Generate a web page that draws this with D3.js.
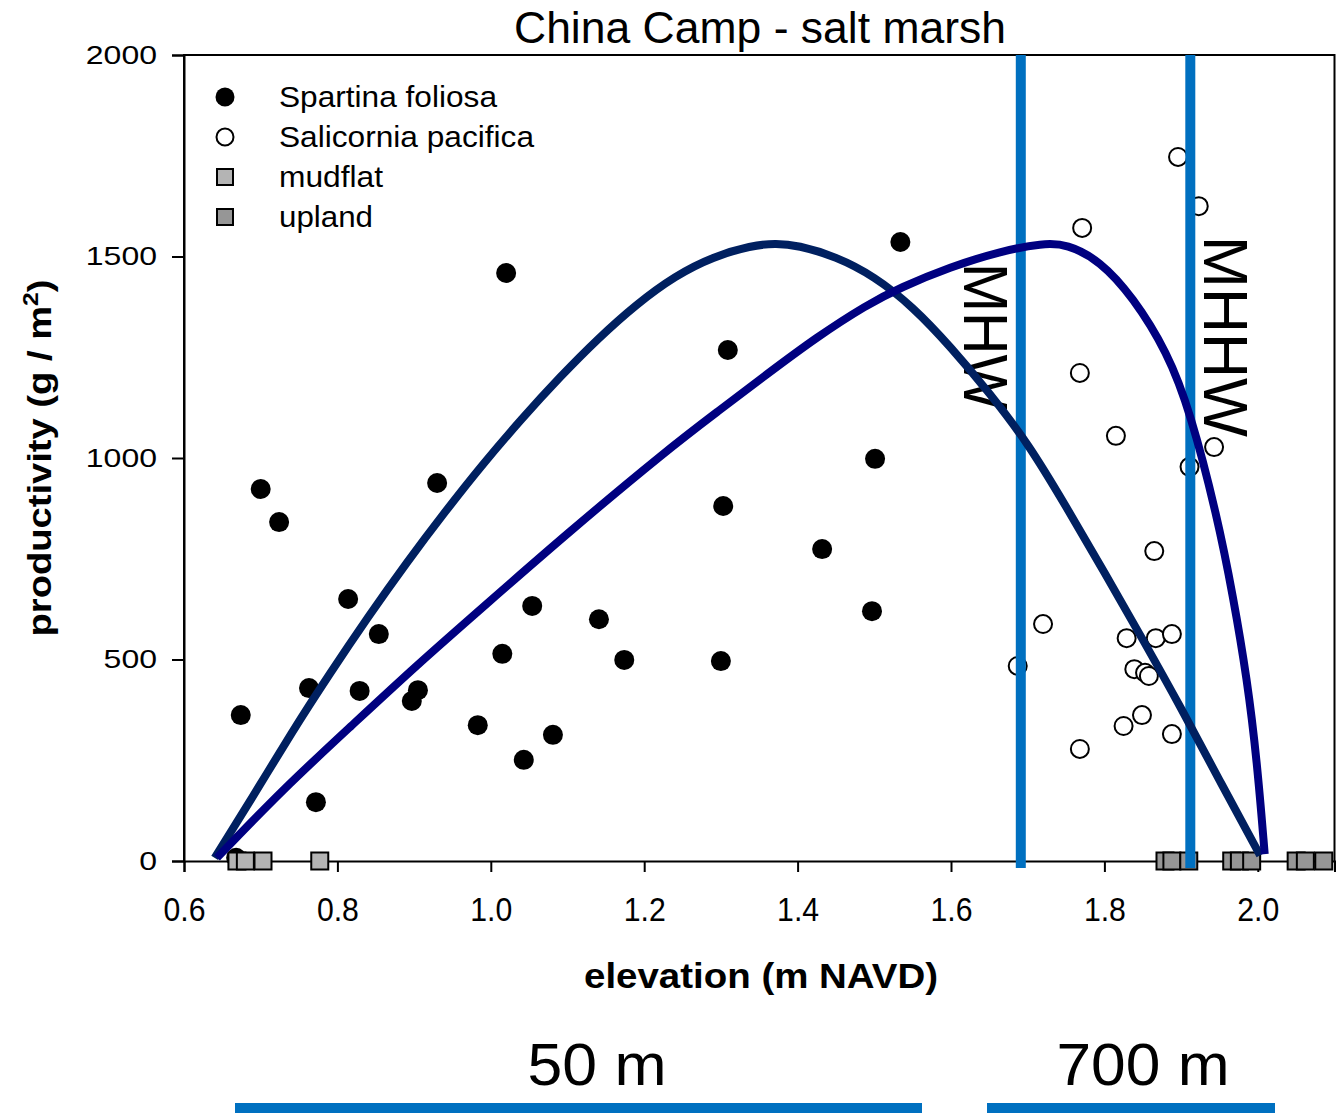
<!DOCTYPE html>
<html>
<head>
<meta charset="utf-8">
<script src="https://cdn.jsdelivr.net/npm/d3@7"></script>
<style>
  html, body { margin: 0; padding: 0; background: #fff; }
  svg { display: block; }
</style>
</head>
<body>
<svg id="chart" width="1336" height="1113"></svg>
<script>
// ---------------- data ----------------
const title = "China Camp - salt marsh";
const xTicks = [0.6, 0.8, 1.0, 1.2, 1.4, 1.6, 1.8, 2.0];
const yTicks = [0, 500, 1000, 1500, 2000];

// Spartina foliosa: [elevation, productivity]
const spartina = [
  [0.668, 8], [0.674, 362], [0.700, 923], [0.724, 841], [0.763, 429], [0.772, 146],
  [0.814, 650], [0.829, 422], [0.854, 563], [0.897, 397], [0.905, 424],
  [0.930, 938], [0.983, 337], [1.015, 514], [1.020, 1459], [1.043, 251],
  [1.054, 633], [1.081, 313], [1.141, 600], [1.174, 499], [1.300, 496],
  [1.303, 881], [1.309, 1268], [1.432, 774], [1.497, 620], [1.501, 998],
  [1.534, 1536]
];
// Salicornia pacifica
const salicornia = [
  [1.687, 484], [1.720, 588], [1.771, 1571], [1.768, 1211], [1.768, 278],
  [1.815, 1055], [1.829, 553], [1.825, 335], [1.839, 476], [1.849, 362],
  [1.853, 467], [1.858, 459], [1.865, 769], [1.867, 553], [1.888, 563],
  [1.888, 315], [1.896, 1747], [1.911, 978], [1.923, 1625], [1.943, 1027]
];
// mudflat / upland (productivity 0)
const mudflat = [0.669, 0.680, 0.703, 0.777];
const upland = [1.879, 1.888, 1.910, 1.966, 1.976, 1.992, 2.050, 2.062, 2.086];

// fitted curves
const curveSpartina = [
  [0.640, 8], [0.690, 160], [0.740, 318], [0.790, 465], [0.840, 606],
  [0.890, 740], [0.940, 866], [0.990, 986], [1.040, 1097], [1.090, 1201],
  [1.140, 1297], [1.190, 1382], [1.240, 1452], [1.290, 1500], [1.340, 1527],
  [1.371, 1533], [1.400, 1528], [1.450, 1500], [1.500, 1451], [1.550, 1376],
  [1.600, 1275], [1.650, 1162], [1.700, 1038], [1.750, 880], [1.800, 716],
  [1.850, 550], [1.900, 380], [1.950, 200], [2.003, 14]
];
const curveSalicornia = [
  [0.643, 8], [0.730, 180], [0.818, 335], [0.904, 487], [0.991, 632],
  [1.099, 812], [1.230, 1020], [1.295, 1114], [1.360, 1208], [1.425, 1300],
  [1.490, 1380], [1.534, 1423], [1.599, 1474], [1.664, 1513], [1.720, 1533],
  [1.751, 1531], [1.794, 1490], [1.837, 1400], [1.882, 1263], [1.912, 1114],
  [1.947, 856], [1.968, 655], [1.986, 452], [1.999, 248], [2.009, 17]
];
// tidal datums
const datums = [
  { name: "MHW", x: 1.691 },
  { name: "MHHW", x: 1.912 }
];
const legendItems = [
  { label: "Spartina foliosa", type: "filled" },
  { label: "Salicornia pacifica", type: "open" },
  { label: "mudflat", type: "mudflat" },
  { label: "upland", type: "upland" }
];
const distances = [
  { label: "50 m", from: 235, to: 922 },
  { label: "700 m", from: 987, to: 1275 }
];

// ---------------- drawing ----------------
(function () {
const svg = d3.select("#chart");
const mL = 184, mR = 1334.5, mT = 55, mB = 861;

const x = d3.scaleLinear().domain([0.6, 2.1]).range([mL, mR]);
const y = d3.scaleLinear().domain([0, 2000]).range([mB, mT]);

const SANS = "'Liberation Sans', Arial, sans-serif";
const NARROW = "'Liberation Sans Narrow', 'Arial Narrow', 'Liberation Sans', sans-serif";

const COL_BLUE = "#0070C0";
const COL_A = "#002060";
const COL_B = "#000080";
const COL_MUD = "#b4b4b4";
const COL_UP = "#969696";

// Title
svg.append("text")
  .attr("x", 760).attr("y", 43)
  .attr("text-anchor", "middle")
  .attr("font-family", SANS).attr("font-size", 44)
  .attr("textLength", 492).attr("lengthAdjust", "spacingAndGlyphs")
  .attr("fill", "#000")
  .text(title);

// Frame
svg.append("path")
  .attr("d", `M${mL},${mB}V${mT}H${mR}V${mB}`)
  .attr("fill", "none").attr("stroke", "#000").attr("stroke-width", 2);

// X axis
const xAxis = svg.append("g")
  .attr("transform", `translate(0,${mB})`)
  .call(d3.axisBottom(x).tickValues(xTicks).tickSize(11).tickPadding(25).tickFormat(d3.format(".1f")));
xAxis.select(".domain").attr("stroke", "#000").attr("stroke-width", 2);
xAxis.selectAll(".tick line").attr("stroke", "#000").attr("stroke-width", 2);
xAxis.selectAll(".tick text")
  .attr("font-family", NARROW).attr("font-size", 34).attr("fill", "#000")
  .attr("textLength", 42).attr("lengthAdjust", "spacingAndGlyphs");

// Y axis
const yAxis = svg.append("g")
  .attr("transform", `translate(${mL},0)`)
  .call(d3.axisLeft(y).tickValues(yTicks).tickSize(12).tickPadding(15).tickFormat(d3.format("d")));
yAxis.select(".domain").attr("stroke", "#000").attr("stroke-width", 2);
yAxis.selectAll(".tick line").attr("stroke", "#000").attr("stroke-width", 2);
yAxis.selectAll(".tick text")
  .attr("font-family", SANS).attr("font-size", 26).attr("fill", "#000")
  .attr("textLength", d => String(d).length * 17.8)
  .attr("lengthAdjust", "spacingAndGlyphs");

// Axis titles
svg.append("text")
  .attr("x", 761).attr("y", 988)
  .attr("text-anchor", "middle")
  .attr("font-family", NARROW).attr("font-weight", "bold").attr("font-size", 35)
  .attr("textLength", 354).attr("lengthAdjust", "spacingAndGlyphs")
  .attr("fill", "#000")
  .text("elevation (m NAVD)");

const yt = svg.append("text")
  .attr("transform", "translate(51,458) rotate(-90)")
  .attr("text-anchor", "middle")
  .attr("font-family", NARROW).attr("font-weight", "bold").attr("font-size", 34)
  .attr("textLength", 357).attr("lengthAdjust", "spacingAndGlyphs")
  .attr("fill", "#000");
yt.append("tspan").text("productivity (g / m");
yt.append("tspan").attr("dy", -13).attr("font-size", 22).text("2");
yt.append("tspan").attr("dy", 13).text(")");

// Spartina points
svg.append("g").selectAll("circle").data(spartina).join("circle")
  .attr("cx", d => x(d[0])).attr("cy", d => y(d[1])).attr("r", 10)
  .attr("fill", "#000");

// Salicornia points
svg.append("g").selectAll("circle").data(salicornia).join("circle")
  .attr("cx", d => x(d[0])).attr("cy", d => y(d[1])).attr("r", 9)
  .attr("fill", "#fff").attr("stroke", "#000").attr("stroke-width", 2);

// mudflat & upland squares
const SQ = 17;
svg.append("g").selectAll("rect").data(mudflat).join("rect")
  .attr("x", d => x(d) - SQ / 2).attr("y", y(0) - SQ / 2)
  .attr("width", SQ).attr("height", SQ)
  .attr("fill", COL_MUD).attr("stroke", "#000").attr("stroke-width", 2);
svg.append("g").selectAll("rect").data(upland).join("rect")
  .attr("x", d => x(d) - SQ / 2).attr("y", y(0) - SQ / 2)
  .attr("width", SQ).attr("height", SQ)
  .attr("fill", COL_UP).attr("stroke", "#000").attr("stroke-width", 2);

// datum vertical lines
svg.append("g").selectAll("line").data(datums).join("line")
  .attr("x1", d => x(d.x)).attr("x2", d => x(d.x))
  .attr("y1", mT).attr("y2", mB + 7)
  .attr("stroke", COL_BLUE).attr("stroke-width", 10);

// datum labels (rotated, reading downward)
const datumLabelPos = { MHW: { bx: 964, y0: 263, len: 147 }, MHHW: { bx: 1204, y0: 236, len: 201 } };
svg.append("g").selectAll("text").data(datums).join("text")
  .attr("transform", d => `translate(${datumLabelPos[d.name].bx},${datumLabelPos[d.name].y0}) rotate(90)`)
  .attr("font-family", SANS).attr("font-size", 63)
  .attr("textLength", d => datumLabelPos[d.name].len).attr("lengthAdjust", "spacingAndGlyphs")
  .attr("fill", "#000")
  .text(d => d.name);

// fitted curves
const line = d3.line()
  .x(d => x(d[0])).y(d => y(d[1]))
  .curve(d3.curveBasis);
svg.append("path").datum(curveSpartina)
  .attr("d", line).attr("fill", "none")
  .attr("stroke", COL_A).attr("stroke-width", 8);
svg.append("path").datum(curveSalicornia)
  .attr("d", line).attr("fill", "none")
  .attr("stroke", COL_B).attr("stroke-width", 8);

// Legend
const lg = svg.append("g");
const legendLen = [218, 255, 104, 94];
legendItems.forEach((it, i) => {
  const cy = 97 + i * 40;
  if (it.type === "filled") {
    lg.append("circle").attr("cx", 225).attr("cy", cy).attr("r", 9.5).attr("fill", "#000");
  } else if (it.type === "open") {
    lg.append("circle").attr("cx", 225).attr("cy", cy).attr("r", 8.5)
      .attr("fill", "#fff").attr("stroke", "#000").attr("stroke-width", 2);
  } else {
    lg.append("rect").attr("x", 225 - 8).attr("y", cy - 8).attr("width", 16).attr("height", 16)
      .attr("fill", it.type === "mudflat" ? COL_MUD : COL_UP)
      .attr("stroke", "#000").attr("stroke-width", 2);
  }
  lg.append("text")
    .attr("x", 279).attr("y", cy + 10)
    .attr("font-family", SANS).attr("font-size", 29)
    .attr("textLength", legendLen[i]).attr("lengthAdjust", "spacingAndGlyphs")
    .attr("fill", "#000")
    .text(it.label);
});

// distance bars and labels
const distLabelX = [597, 1143];
const distLabelLen = [139, 173];
distances.forEach((dd, i) => {
  svg.append("rect")
    .attr("x", dd.from).attr("y", 1103)
    .attr("width", dd.to - dd.from).attr("height", 10)
    .attr("fill", COL_BLUE);
  svg.append("text")
    .attr("x", distLabelX[i]).attr("y", 1085)
    .attr("text-anchor", "middle")
    .attr("font-family", NARROW).attr("font-size", 60)
    .attr("textLength", distLabelLen[i]).attr("lengthAdjust", "spacingAndGlyphs")
    .attr("fill", "#000")
    .text(dd.label);
});
})();
</script>
</body>
</html>
